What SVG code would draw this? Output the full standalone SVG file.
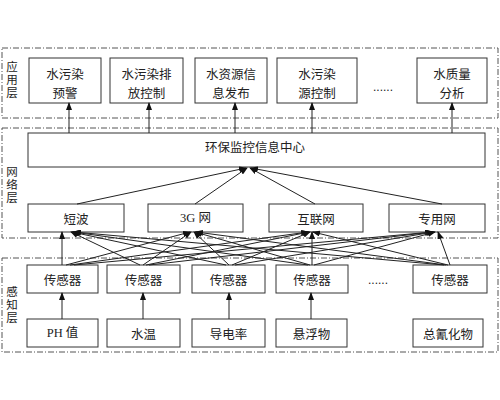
<svg xmlns="http://www.w3.org/2000/svg" width="500" height="400" viewBox="0 0 500 400">
<style>
.box{fill:#fff;stroke:#333;stroke-width:1}
.frame{fill:none;stroke:#555;stroke-width:1;stroke-dasharray:6 2 1 2}
.t{font-family:"Noto Sans CJK SC","Noto Sans",sans-serif;font-size:12.5px;fill:#222;text-anchor:middle;dominant-baseline:central}
.side{font-family:"Noto Sans CJK SC","Noto Sans",sans-serif;font-size:11.5px;fill:#222;text-anchor:middle;writing-mode:vertical-rl;letter-spacing:1.5px}
.ts{font-family:"Liberation Serif","Noto Sans CJK SC",serif;font-size:12.5px;fill:#222;text-anchor:middle;dominant-baseline:central}
.c{stroke:#222;stroke-width:1;fill:none;marker-end:url(#ah)}
.dots{font-family:"Liberation Sans",sans-serif;font-size:12px;fill:#222;text-anchor:middle}
</style>
<defs>
<marker id="ah" markerWidth="8" markerHeight="6" refX="7" refY="3" orient="auto" markerUnits="userSpaceOnUse">
<path d="M0,0 L8,3 L0,6 z" fill="#111"/>
</marker>
</defs>
<rect width="500" height="400" fill="#fff"/>
<g id="frames">
<rect class="frame" x="2" y="48" width="496" height="70"/>
<rect class="frame" x="2" y="128" width="496" height="110"/>
<rect class="frame" x="2" y="258" width="496" height="94"/>
</g>
<g id="layer-labels">
<text class="side" x="12" y="80">应用层</text>
<text class="side" x="12" y="185">网络层</text>
<text class="side" x="12" y="305">感知层</text>
</g>
<g id="app1"><rect class="box" x="29" y="58" width="72" height="45"/><text class="t" x="65" y="73">水污染</text><text class="t" x="65" y="92">预警</text></g>
<g id="app2"><rect class="box" x="110" y="58" width="73" height="45"/><text class="t" x="146.5" y="73">水污染排</text><text class="t" x="146.5" y="92">放控制</text></g>
<g id="app3"><rect class="box" x="195" y="58" width="72" height="45"/><text class="t" x="231" y="73">水资源信</text><text class="t" x="231" y="92">息发布</text></g>
<g id="app4"><rect class="box" x="277" y="58" width="80" height="45"/><text class="t" x="317" y="73">水污染</text><text class="t" x="317" y="92">源控制</text></g>
<text class="dots" x="383" y="91">......</text>
<g id="app5"><rect class="box" x="417" y="58" width="70" height="45"/><text class="t" x="452" y="73">水质量</text><text class="t" x="452" y="92">分析</text></g>
<g id="center"><rect class="box" x="28" y="133" width="457" height="34"/><text class="t" x="255" y="146">环保监控信息中心</text></g>
<g id="net1"><rect class="box" x="28" y="204" width="96" height="28"/><text class="t" x="76" y="218">短波</text></g>
<g id="net2"><rect class="box" x="148" y="204" width="95" height="28"/><text class="ts" x="195.5" y="218">3G 网</text></g>
<g id="net3"><rect class="box" x="269" y="204" width="94" height="28"/><text class="t" x="316" y="218">互联网</text></g>
<g id="net4"><rect class="box" x="389" y="204" width="96" height="28"/><text class="t" x="437" y="218">专用网</text></g>
<g id="s1"><rect class="box" x="27" y="265" width="71" height="28"/><text class="t" x="62.5" y="279">传感器</text></g>
<g id="s2"><rect class="box" x="107" y="265" width="73" height="28"/><text class="t" x="143.5" y="279">传感器</text></g>
<g id="s3"><rect class="box" x="192" y="265" width="73" height="28"/><text class="t" x="228.5" y="279">传感器</text></g>
<g id="s4"><rect class="box" x="276" y="265" width="72" height="28"/><text class="t" x="312" y="279">传感器</text></g>
<text class="dots" x="378" y="284">......</text>
<g id="s5"><rect class="box" x="413" y="265" width="74" height="28"/><text class="t" x="450" y="279">传感器</text></g>
<g id="b1"><rect class="box" x="27" y="319" width="71" height="28"/><text class="ts" x="62.5" y="333">PH 值</text></g>
<g id="b2"><rect class="box" x="107" y="319" width="73" height="28"/><text class="t" x="143.5" y="333">水温</text></g>
<g id="b3"><rect class="box" x="192" y="319" width="73" height="28"/><text class="t" x="228.5" y="333">导电率</text></g>
<g id="b4"><rect class="box" x="276" y="319" width="71" height="28"/><text class="t" x="311.5" y="333">悬浮物</text></g>
<g id="b5"><rect class="box" x="413" y="319" width="70" height="28"/><text class="t" x="448" y="333">总氰化物</text></g>
<g id="connectors">
<line class="c" x1="69" y1="133" x2="69" y2="103"/>
<line class="c" x1="149" y1="133" x2="149" y2="103"/>
<line class="c" x1="235" y1="133" x2="235" y2="103"/>
<line class="c" x1="312" y1="133" x2="312" y2="103"/>
<line class="c" x1="452" y1="133" x2="452" y2="103"/>
<line class="c" x1="77" y1="204" x2="246" y2="168"/>
<line class="c" x1="195" y1="204" x2="247" y2="168"/>
<line class="c" x1="315" y1="204" x2="250" y2="168"/>
<line class="c" x1="442" y1="204" x2="251" y2="168"/>
<line class="c" x1="62" y1="265" x2="62" y2="232"/>
<line class="c" x1="66" y1="265" x2="190" y2="232"/>
<line class="c" x1="70" y1="265" x2="308" y2="232"/>
<line class="c" x1="74" y1="265" x2="432" y2="232"/>
<line class="c" x1="140" y1="265" x2="71" y2="232"/>
<line class="c" x1="143" y1="265" x2="191" y2="232"/>
<line class="c" x1="146" y1="265" x2="309" y2="232"/>
<line class="c" x1="149" y1="265" x2="433" y2="232"/>
<line class="c" x1="226" y1="265" x2="72" y2="232"/>
<line class="c" x1="229" y1="265" x2="194" y2="232"/>
<line class="c" x1="232" y1="265" x2="310" y2="232"/>
<line class="c" x1="235" y1="265" x2="434" y2="232"/>
<line class="c" x1="308" y1="265" x2="73" y2="232"/>
<line class="c" x1="310" y1="265" x2="195" y2="232"/>
<line class="c" x1="312" y1="265" x2="312" y2="232"/>
<line class="c" x1="314" y1="265" x2="435" y2="232"/>
<line class="c" x1="444" y1="265" x2="74" y2="232"/>
<line class="c" x1="446" y1="265" x2="196" y2="232"/>
<line class="c" x1="448" y1="265" x2="313" y2="232"/>
<line class="c" x1="450" y1="265" x2="438" y2="232"/>
<line class="c" x1="62" y1="319" x2="62" y2="293"/>
<line class="c" x1="143" y1="319" x2="143" y2="293"/>
<line class="c" x1="229" y1="319" x2="229" y2="293"/>
<line class="c" x1="311" y1="319" x2="311" y2="293"/>
</g>
</svg>
